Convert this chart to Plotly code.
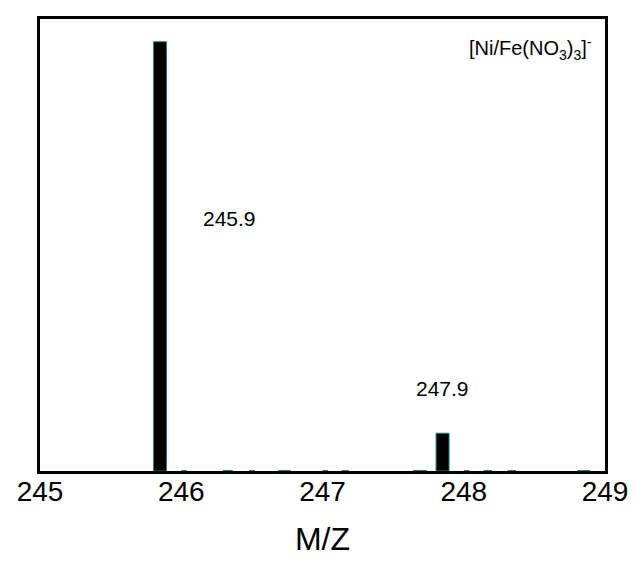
import plotly.graph_objects as go

# Main peaks
peak_mz = [245.85, 247.85]
peak_intensity = [100.0, 8.8]
peak_labels = ["245.9", "247.9"]
label_mz = [246.34, 247.85]
label_intensity = [58.8, 19.3]

# Tiny baseline signals
noise_mz = [246.02, 246.33, 246.50, 246.73, 247.02, 247.16, 247.69, 248.02, 248.17, 248.34, 248.85]
noise_intensity = [0.2, 0.2, 0.2, 0.2, 0.2, 0.2, 0.2, 0.2, 0.2, 0.2, 0.2]
noise_width = [0.04, 0.07, 0.04, 0.09, 0.04, 0.05, 0.1, 0.04, 0.06, 0.06, 0.09]

tick_vals = [245, 246, 247, 248, 249]
tick_text = ["245", "246", "247", "248", "249"]

FONT = "Liberation Sans, Arial, sans-serif"
TEAL = "#1f8080"

fig = go.Figure()
fig.add_trace(go.Bar(
    x=noise_mz, y=noise_intensity, width=noise_width,
    marker=dict(color=TEAL, line=dict(color=TEAL, width=0)),
    showlegend=False, hoverinfo="skip",
))
fig.add_trace(go.Bar(
    x=peak_mz, y=peak_intensity, width=0.092,
    marker=dict(color="black", line=dict(color=TEAL, width=1)),
    showlegend=False,
))

for xm, ym, t in zip(label_mz, label_intensity, peak_labels):
    fig.add_annotation(x=xm, y=ym, text=t, showarrow=False,
                       font=dict(family=FONT, size=21, color="black"))

fig.add_annotation(xref="paper", yref="paper", x=0.98, y=0.935,
                   xanchor="right", yanchor="middle", showarrow=False,
                   text="[Ni/Fe(NO<sub>3</sub>)<sub>3</sub>]<sup>-</sup>",
                   font=dict(family=FONT, size=20, color="black"))

fig.update_layout(
    width=637, height=561,
    margin=dict(l=32, r=40, t=8, b=98),
    paper_bgcolor="white", plot_bgcolor="white",
    barmode="overlay",
    font=dict(family=FONT, color="black"),
    xaxis=dict(
        range=[245, 249], tickmode="array", tickvals=tick_vals, ticktext=tick_text,
        showgrid=False, zeroline=False, showline=True, mirror=True,
        linecolor="black", linewidth=3, ticks="", ticklabelstandoff=-7,
        tickfont=dict(family=FONT, size=28, color="black"),
        title=dict(text="M/Z", font=dict(family=FONT, size=32, color="black"), standoff=23),
    ),
    yaxis=dict(
        range=[0, 105.3], showticklabels=False, showgrid=False, zeroline=False,
        showline=True, mirror=True, linecolor="black", linewidth=3, ticks="",
    ),
)

fig.write_html("out.html")
